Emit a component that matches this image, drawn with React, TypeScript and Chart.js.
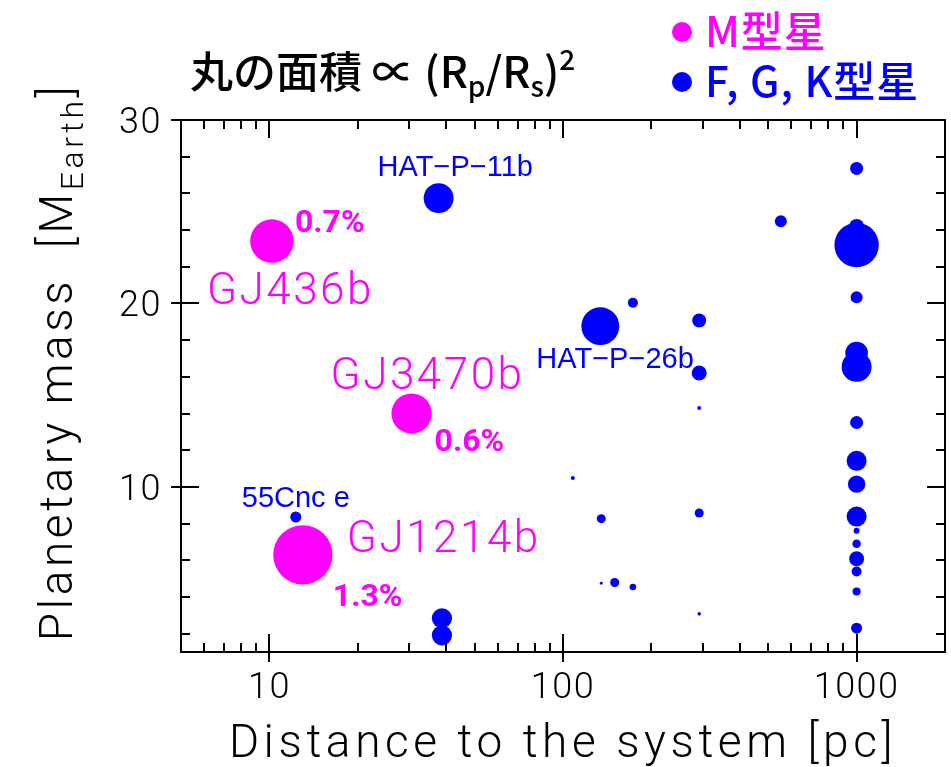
import React, { useEffect, useRef } from "react";
import { Chart, registerables } from "chart.js";

Chart.register(...registerables);

// Planets around M dwarfs
const mNames = ["GJ436b", "GJ3470b", "GJ1214b"];
const mDistance = [10.2, 30.5, 13.0]; // pc
const mMass = [23.4, 14.0, 6.3]; // Earth masses
const mDepth = [0.7, 0.6, 1.3]; // transit depth (Rp/Rs)^2 in %

// Planets around F, G, K stars
const fgkDistance = [
  37.7, 12.3, 38.7, 38.7, 134, 173, 291, 291, 291, 552,
  1000, 1000, 1000, 1000, 1000, 1000, 1000, 1000, 1000, 1000,
  1000, 1000, 1000, 1000, 1000, 1000,
  108, 135, 291, 135, 150, 173, 291,
];
const fgkMass = [
  25.74, 8.36, 2.84, 1.91, 18.76, 20.04, 19.07, 16.21, 14.3, 24.48,
  27.36, 24.2, 23.19, 20.34, 17.3, 16.54, 13.51, 11.42, 10.15, 8.38,
  7.61, 6.9, 6.08, 5.39, 4.3, 2.3,
  10.49, 8.27, 8.58, 4.75, 4.79, 4.54, 3.08,
];
const fgkDepth = [
  0.33, 0.045, 0.15, 0.15, 0.53, 0.037, 0.072, 0.083, 0.006, 0.053,
  0.0625, 0.083, 0.73, 0.053, 0.19, 0.33, 0.0625, 0.148, 0.112, 0.148,
  0.013, 0.027, 0.083, 0.037, 0.024, 0.045,
  0.006, 0.03, 0.03, 0.0033, 0.03, 0.016, 0.0048,
];
const fgkNames: Record<number, string> = { 0: "HAT−P−11b", 1: "55Cnc e", 4: "HAT−P−26b" };

// Axes
const xMin = 5;
const xMax = 2000;
const yMin = 1;
const yMax = 30;
const xMajorTicks = [10, 100, 1000];
const xTickLabels = ["10", "100", "1000"];
const yMajorTicks = [10, 20, 30];
const yTickLabels = ["10", "20", "30"];

const MAGENTA = "#ff00ff";
const BLUE = "#0000ff";
const RADIUS_SCALE = 26; // px per sqrt(%)

const THIN = "'Roboto', 'DejaVu Sans', sans-serif";
const CJK = "'Noto Sans CJK JP', 'Noto Sans', sans-serif";

type Seg = { text: string; font: string; dy?: number };

function drawSegs(ctx: CanvasRenderingContext2D, segs: Seg[], x: number, y: number, center: boolean) {
  let total = 0;
  for (const s of segs) {
    ctx.font = s.font;
    total += ctx.measureText(s.text).width;
  }
  let cx = center ? x - total / 2 : x;
  ctx.textAlign = "left";
  for (const s of segs) {
    ctx.font = s.font;
    ctx.fillText(s.text, cx, y + (s.dy || 0));
    cx += ctx.measureText(s.text).width;
  }
}

// Annotation placement relative to each labelled bubble
const mLabelOffsets = [
  { name: [-65, 63], pct: [23, -9] },
  { name: [-81, -25], pct: [23, 37] },
  { name: [44, -3], pct: [30, 51] },
];
const fgkLabelOffsets: Record<number, number[]> = { 0: [-61, -22], 1: [-54, -10], 4: [-64, 42] };

const axesPlugin = {
  id: "framedAxes",
  afterDatasetsDraw(chart: any) {
    const { ctx, chartArea: a, scales } = chart;
    const xs = scales.x;
    const ys = scales.y;
    const L = Math.round(a.left), R = Math.round(a.right), T = Math.round(a.top), B = Math.round(a.bottom);
    ctx.save();
    ctx.strokeStyle = "#000";
    ctx.lineWidth = 2;
    ctx.lineCap = "butt";
    ctx.beginPath();
    // x ticks (log)
    for (let dec = 1; dec <= 1000; dec *= 10) {
      for (let m = 1; m <= 9; m++) {
        const v = m * dec;
        if (v <= xMin || v >= xMax) continue;
        const px = Math.round(xs.getPixelForValue(v));
        const major = m === 1;
        const inLen = major ? 18 : 9;
        ctx.moveTo(px, B + (major ? 10 : 0));
        ctx.lineTo(px, B - inLen);
        ctx.moveTo(px, T);
        ctx.lineTo(px, T + inLen);
      }
    }
    // y ticks (linear)
    for (let v = 2; v <= yMax; v += 2) {
      const py = Math.round(ys.getPixelForValue(v));
      const major = v % 10 === 0;
      const inLen = major ? 18 : 9;
      ctx.moveTo(L - (major ? 10 : 0), py);
      ctx.lineTo(L + inLen, py);
      ctx.moveTo(R, py);
      ctx.lineTo(R - inLen, py);
    }
    ctx.stroke();
    ctx.strokeRect(L, T, R - L, B - T);
    ctx.restore();
  },
  afterDraw(chart: any) {
    const { ctx, chartArea: a, scales } = chart;
    const xs = scales.x;
    const ys = scales.y;
    ctx.save();
    ctx.fillStyle = "#000";
    ctx.textBaseline = "alphabetic";
    (ctx as any).letterSpacing = "1.5px";
    ctx.font = `300 36px ${THIN}`;
    ctx.textAlign = "center";
    xMajorTicks.forEach((v, i) => {
      ctx.fillText(xTickLabels[i], xs.getPixelForValue(v), 698);
    });
    ctx.textAlign = "right";
    yMajorTicks.forEach((v, i) => {
      ctx.fillText(yTickLabels[i], 162, ys.getPixelForValue(v) + 13);
    });

    // axis titles
    (ctx as any).letterSpacing = "4.6px";
    ctx.font = `300 46px ${THIN}`;
    ctx.textAlign = "center";
    ctx.fillText("Distance to the system [pc]", (a.left + a.right) / 2, 757);

    ctx.save();
    ctx.translate(72, 362);
    ctx.rotate(-Math.PI / 2);
    (ctx as any).letterSpacing = "3.6px";
    drawSegs(
      ctx,
      [
        { text: "Planetary mass  [M", font: `300 46px ${THIN}` },
        { text: "Earth", font: `300 32px ${THIN}`, dy: 11 },
        { text: "]", font: `300 46px ${THIN}` },
      ],
      0,
      0,
      true
    );
    ctx.restore();

    // bubble annotations
    const mMeta = chart.getDatasetMeta(0).data;
    mNames.forEach((name, i) => {
      const p = mMeta[i];
      const off = mLabelOffsets[i];
      ctx.fillStyle = MAGENTA;
      ctx.textAlign = "left";
      (ctx as any).letterSpacing = "2.5px";
      ctx.font = `300 44px ${THIN}`;
      ctx.fillText(name, p.x + off.name[0], p.y + off.name[1]);
      (ctx as any).letterSpacing = "0px";
      ctx.font = `700 32px ${THIN}`;
      ctx.fillText(`${mDepth[i].toFixed(1)}%`, p.x + off.pct[0], p.y + off.pct[1]);
    });
    const fMeta = chart.getDatasetMeta(1).data;
    Object.keys(fgkNames).forEach((k) => {
      const i = Number(k);
      const p = fMeta[i];
      const off = fgkLabelOffsets[i];
      ctx.fillStyle = BLUE;
      ctx.textAlign = "left";
      (ctx as any).letterSpacing = "0px";
      ctx.font = `400 29px 'Liberation Sans', sans-serif`;
      ctx.fillText(fgkNames[i], p.x + off[0], p.y + off[1]);
    });

    // heading
    ctx.fillStyle = "#000";
    (ctx as any).letterSpacing = "0px";
    const big = `500 43px ${CJK}`;
    const small = `500 28px ${CJK}`;
    drawSegs(
      ctx,
      [
        { text: "丸の面積 ∝ (R", font: big },
        { text: "p", font: small, dy: 9 },
        { text: "/R", font: big },
        { text: "s", font: small, dy: 9 },
        { text: ")", font: big },
        { text: "2", font: small, dy: -18 },
      ],
      190,
      88,
      false
    );

    // legend
    const legend = [
      { text: "M型星", color: MAGENTA, y: 32 },
      { text: "F, G, K型星", color: BLUE, y: 82 },
    ];
    (ctx as any).letterSpacing = "1px";
    legend.forEach((l) => {
      ctx.fillStyle = l.color;
      ctx.beginPath();
      ctx.arc(682, l.y, 10, 0, Math.PI * 2);
      ctx.fill();
      ctx.font = `500 42px ${CJK}`;
      ctx.textAlign = "left";
      ctx.fillText(l.text, 705, l.y + 15);
    });
    ctx.restore();
  },
};

export default function App() {
  const ref = useRef<HTMLCanvasElement>(null);
  useEffect(() => {
    const mPoints = mDistance.map((d, i) => ({ x: d, y: mMass[i], r: RADIUS_SCALE * Math.sqrt(mDepth[i]) }));
    const fgkPoints = fgkDistance.map((d, i) => ({ x: d, y: fgkMass[i], r: RADIUS_SCALE * Math.sqrt(fgkDepth[i]) }));
    const chart = new Chart(ref.current as HTMLCanvasElement, {
      type: "bubble",
      data: {
        datasets: [
          { label: "M型星", data: mPoints, backgroundColor: MAGENTA, borderWidth: 0 },
          { label: "F, G, K型星", data: fgkPoints, backgroundColor: BLUE, borderWidth: 0 },
        ],
      },
      options: {
        responsive: false,
        animation: false,
        events: [],
        clip: false as any,
        layout: { autoPadding: false, padding: { left: 181, right: 6, top: 120, bottom: 115 } },
        plugins: { legend: { display: false }, tooltip: { enabled: false } },
        elements: { point: { borderWidth: 0, hoverRadius: 0 } },
        scales: {
          x: { type: "logarithmic", min: xMin, max: xMax, display: false },
          y: { type: "linear", min: yMin, max: yMax, display: false },
        },
      },
      plugins: [axesPlugin],
    });
    return () => chart.destroy();
  }, []);
  return (
    <div style={{ position: "fixed", left: 0, top: 0, width: 951, height: 767, background: "#fff" }}>
      <canvas ref={ref} width={951} height={767} style={{ display: "block" }} />
    </div>
  );
}
